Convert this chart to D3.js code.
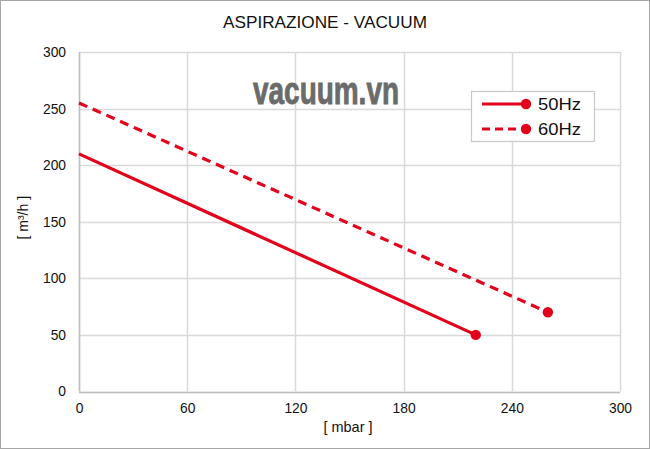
<!DOCTYPE html>
<html><head><meta charset="utf-8">
<script src="https://cdn.jsdelivr.net/npm/d3@7"></script>
<style>body{margin:0;background:#fff}svg{display:block}</style>
</head><body>
<svg id="c" width="650" height="449"></svg>
<script>
const title = "ASPIRAZIONE - VACUUM";
const xTicks = [0, 60, 120, 180, 240, 300];
const yTicks = [0, 50, 100, 150, 200, 250, 300];
const seriesNames = ["50Hz", "60Hz"];
const x50 = [0, 220];
const y50 = [210, 50];
const x60 = [0, 260];
const y60 = [255, 70];
const xLabel = "[ mbar ]";
const yLabel = "[ m³/h ]";
const watermark = "vacuum.vn";

const svg = d3.select("#c");
const W = 650, H = 449;
const m = {l: 79, r: 30, t: 52, b: 57};
const x = d3.scaleLinear().domain([0, 300]).range([m.l, W - m.r]);
const y = d3.scaleLinear().domain([0, 300]).range([H - m.b - 0.5, m.t]);
const red = "#e3001b";
const font = "'Liberation Sans', Arial, sans-serif";

svg.append("rect").attr("x", 0.5).attr("y", 0.5).attr("width", W - 1).attr("height", H - 1)
  .attr("fill", "#fff").attr("stroke", "#a6a6a6");

svg.append("text").attr("x", 325).attr("y", 28).attr("text-anchor", "middle")
  .attr("font-family", font).attr("font-size", 16.5).attr("fill", "#111")
  .attr("textLength", 204).attr("lengthAdjust", "spacingAndGlyphs").text(title);

// grid
const g = svg.append("g");
g.selectAll(".vx").data(xTicks).enter().append("line")
  .attr("x1", d => Math.round(x(d)) + 0.5).attr("x2", d => Math.round(x(d)) + 0.5)
  .attr("y1", y(0)).attr("y2", y(300)).attr("stroke", "#d9d9d9").attr("stroke-width", 1.5);
g.selectAll(".hy").data(yTicks).enter().append("line")
  .attr("y1", d => Math.round(y(d)) + 0.5).attr("y2", d => Math.round(y(d)) + 0.5)
  .attr("x1", x(0)).attr("x2", x(300)).attr("stroke", "#d9d9d9").attr("stroke-width", 1.5);

// axis lines
svg.append("line").attr("x1", x(0)).attr("x2", x(300)).attr("y1", Math.round(y(0)) + 0.5).attr("y2", Math.round(y(0)) + 0.5)
  .attr("stroke", "#bfbfbf").attr("stroke-width", 1.5);
svg.append("line").attr("x1", Math.round(x(0)) + 0.5).attr("x2", Math.round(x(0)) + 0.5).attr("y1", y(0)).attr("y2", y(300))
  .attr("stroke", "#bfbfbf").attr("stroke-width", 1.5);

// axes via d3
const xa = svg.append("g").attr("transform", `translate(0,${y(0)})`)
  .call(d3.axisBottom(x).tickValues(xTicks).tickSize(0).tickPadding(12));
const ya = svg.append("g").attr("transform", `translate(${x(0)},0)`)
  .call(d3.axisLeft(y).tickValues(yTicks).tickSize(0).tickPadding(13));
[xa, ya].forEach(a => {
  a.select(".domain").remove();
  a.selectAll("text").attr("font-family", font).attr("font-size", 13.8).attr("fill", "#111");
});

svg.append("text").attr("x", 348).attr("y", 432).attr("text-anchor", "middle")
  .attr("font-family", font).attr("font-size", 14.5).attr("fill", "#111").text(xLabel);
svg.append("text").attr("transform", `translate(28,${y(150) - 4}) rotate(-90)`).attr("text-anchor", "middle")
  .attr("font-family", font).attr("font-size", 14).attr("fill", "#111").text(yLabel);

// watermark
svg.append("text").attr("x", 253).attr("y", 104)
  .attr("font-family", "'Liberation Sans Narrow', 'Liberation Sans', Arial, sans-serif")
  .attr("font-weight", "bold").attr("font-size", 39).attr("fill", "#6b6b6b")
  .attr("stroke", "#6b6b6b").attr("stroke-width", 0.9)
  .attr("textLength", 146).attr("lengthAdjust", "spacingAndGlyphs").text(watermark);

// series
const line = d3.line().x(d => x(d[0])).y(d => y(d[1]));
const series = [
  {name: seriesNames[0], pts: x50.map((v, i) => [v, y50[i]]), dash: null},
  {name: seriesNames[1], pts: x60.map((v, i) => [v, y60[i]]), dash: "9,6"}
];
series.forEach(s => {
  svg.append("path").datum(s.pts).attr("d", line).attr("fill", "none")
    .attr("stroke", red).attr("stroke-width", 3.2).attr("stroke-dasharray", s.dash);
  const last = s.pts[s.pts.length - 1];
  svg.append("circle").attr("cx", x(last[0])).attr("cy", y(last[1])).attr("r", 5.2).attr("fill", red);
});

// legend
const lg = svg.append("g");
lg.append("rect").attr("x", 471.5).attr("y", 91.5).attr("width", 123).attr("height", 50)
  .attr("fill", "#fff").attr("stroke", "#c8c8c8").attr("stroke-width", 1.2);
series.forEach((s, i) => {
  const ly = 104 + i * 25;
  lg.append("line").attr("x1", 482).attr("x2", 526).attr("y1", ly).attr("y2", ly)
    .attr("stroke", red).attr("stroke-width", 3.2).attr("stroke-dasharray", s.dash ? "8,5" : null);
  lg.append("circle").attr("cx", 526).attr("cy", ly).attr("r", 5.2).attr("fill", red);
  lg.append("text").attr("x", 538).attr("y", ly + 6).attr("font-family", font).attr("font-size", 17)
    .attr("fill", "#111").attr("textLength", 43).attr("lengthAdjust", "spacingAndGlyphs").text(s.name);
});
</script>
</body></html>
